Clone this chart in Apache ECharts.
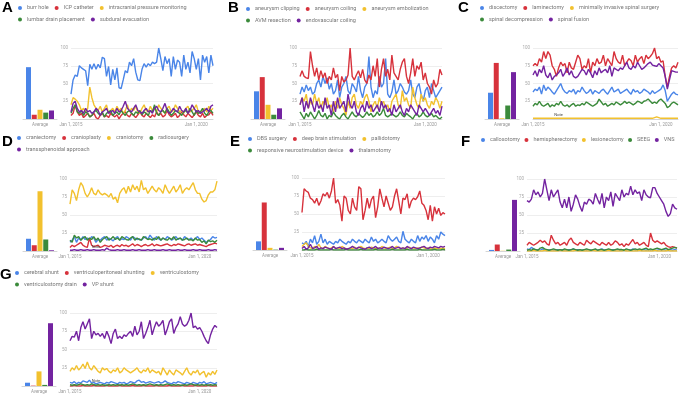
<!DOCTYPE html>
<html>
<head>
<meta charset="utf-8">
<script src="https://cdn.jsdelivr.net/npm/echarts@6/dist/echarts.min.js"></script>
<style>
html, body { margin: 0; padding: 0; background: #fff; }
#chart { width: 680px; height: 395px; }
</style>
</head>
<body>
<div id="chart"></div>
<script>
// monthly categories, Jan 2015 - Sep 2020
var monthNames = ['Jan', 'Feb', 'Mar', 'Apr', 'May', 'Jun', 'Jul', 'Aug', 'Sep', 'Oct', 'Nov', 'Dec'];
var months = [];
for (var y = 2015; y <= 2020; y++) {
	for (var m = 0; m < 12; m++) {
		if (months.length < 69) months.push(monthNames[m] + ' 1, ' + y);
	}
}
var xTickIndex = [0, 60]; // Jan 1, 2015 / Jan 1, 2020
var yTicks = [25, 50, 75, 100];
var barCategory = ['Average'];
var colors = ['#4a85e8', '#d7323c', '#f2c12e', '#3b8a3b', '#7323a0'];

// ---- A
var aTerms = ['burr hole', 'ICP catheter', 'intracranial pressure monitoring', 'lumbar drain placement', 'subdural evacuation'];
var aAvg = [73, 6, 13, 9, 12];
var aBurrHole = [35, 55, 62, 60, 75, 72, 70, 68, 47, 77,
	70, 78, 70, 77, 72, 87, 85, 60, 74, 48,
	70, 55, 72, 44, 43, 55, 68, 65, 80, 75,
	85, 66, 55, 54, 70, 78, 73, 78, 75, 80,
	78, 80, 100, 85, 68, 88, 78, 85, 60, 88,
	70, 83, 80, 60, 90, 70, 80, 65, 95, 85,
	70, 85, 55, 90, 80, 88, 65, 90, 75];
var aIcpCatheter = [5, 8, 20, 10, 5, 8, 2, 5, 8, 3,
	5, 8, 2, 0, 5, 8, 3, 5, 2, 8,
	5, 3, 6, 0, 5, 8, 10, 5, 3, 8,
	5, 2, 6, 10, 5, 3, 8, 5, 2, 6,
	3, 10, 5, 8, 3, 5, 12, 6, 3, 5,
	8, 2, 5, 10, 6, 3, 8, 5, 2, 6,
	10, 5, 3, 8, 2, 5, 6, 10, 5];
var aIcpMonitoring = [20, 30, 28, 25, 20, 12, 15, 10, 15, 45,
	30, 20, 15, 12, 18, 10, 15, 20, 8, 12,
	15, 10, 18, 12, 15, 8, 12, 20, 10, 15,
	12, 18, 10, 8, 15, 20, 12, 10, 18, 12,
	15, 10, 20, 15, 12, 8, 15, 18, 10, 12,
	20, 15, 10, 12, 8, 15, 18, 10, 12, 15,
	20, 10, 8, 12, 15, 10, 18, 12, 15];
var aLumbarDrain = [8, 15, 20, 10, 8, 12, 5, 10, 8, 3,
	5, 10, 12, 8, 5, 10, 3, 8, 10, 12,
	5, 8, 10, 6, 12, 8, 5, 10, 12, 8,
	5, 10, 8, 12, 6, 10, 8, 5, 12, 10,
	20, 8, 5, 10, 12, 8, 15, 10, 5, 8,
	12, 10, 8, 5, 10, 12, 8, 15, 10, 5,
	12, 8, 10, 15, 8, 5, 10, 12, 8];
var aSubdural = [10, 22, 25, 15, 10, 12, 8, 15, 10, 12,
	8, 10, 15, 12, 5, 10, 12, 15, 8, 10,
	12, 8, 15, 10, 12, 18, 25, 15, 12, 10,
	15, 20, 12, 10, 8, 12, 15, 10, 12, 8,
	15, 18, 12, 10, 15, 22, 12, 8, 10, 15,
	12, 10, 18, 12, 10, 15, 8, 12, 20, 15,
	10, 12, 8, 10, 12, 15, 10, 18, 20];

// ---- B
var bTerms = ['aneurysm clipping', 'aneurysm coiling', 'aneurysm embolization', 'AVM resection', 'endovascular coiling'];
var bAvg = [39, 59, 20, 6, 15];
var bClipping = [35, 45, 38, 48, 40, 45, 35, 38, 50, 55,
	45, 60, 50, 58, 42, 50, 35, 40, 55, 30,
	45, 50, 60, 40, 35, 50, 45, 38, 60, 40,
	30, 45, 50, 88, 45, 30, 40, 35, 60, 45,
	50, 85, 35, 30, 38, 55, 35, 40, 50, 45,
	38, 35, 40, 55, 35, 30, 45, 50, 35, 25,
	40, 45, 30, 50, 40, 30, 35, 40, 45];
var bCoiling = [60, 68, 60, 58, 57, 95, 75, 60, 72, 55,
	68, 58, 65, 50, 60, 55, 72, 58, 63, 40,
	60, 52, 55, 62, 100, 60, 55, 62, 68, 58,
	70, 55, 50, 62, 55, 75, 60, 85, 45, 70,
	85, 60, 70, 55, 90, 65, 60, 55, 70, 80,
	85, 60, 50, 65, 85, 60, 75, 70, 80, 55,
	65, 50, 45, 35, 55, 45, 50, 70, 62];
var bEmbolization = [20, 30, 25, 35, 15, 25, 20, 35, 22, 30,
	15, 25, 20, 30, 15, 20, 10, 25, 15, 30,
	20, 15, 5, 25, 15, 30, 35, 20, 15, 25,
	20, 30, 35, 25, 10, 20, 25, 15, 30, 20,
	25, 15, 20, 10, 25, 30, 35, 20, 15, 40,
	25, 30, 20, 15, 45, 30, 20, 15, 35, 25,
	30, 20, 15, 25, 20, 30, 25, 15, 25];
var bAvmResection = [10, 5, 0, 8, 3, 10, 5, 0, 5, 12,
	5, 3, 8, 0, 5, 3, 10, 5, 2, 0,
	5, 8, 3, 0, 5, 10, 5, 3, 8, 5,
	2, 5, 10, 5, 8, 3, 5, 10, 5, 8,
	15, 5, 3, 5, 8, 5, 3, 5, 10, 5,
	3, 8, 5, 3, 0, 5, 8, 3, 5, 10,
	5, 3, 5, 8, 3, 5, 2, 0, 3];
var bEndovascular = [20, 30, 10, 25, 15, 30, 20, 10, 25, 15,
	20, 10, 30, 15, 20, 5, 25, 10, 30, 15,
	20, 25, 10, 35, 20, 15, 25, 10, 5, 15,
	20, 10, 25, 15, 20, 10, 15, 20, 10, 25,
	15, 20, 10, 15, 5, 20, 10, 15, 20, 10,
	5, 15, 10, 20, 15, 10, 5, 20, 15, 10,
	15, 10, 5, 10, 15, 8, 12, 5, 18];

// ---- C
var cTerms = ['discectomy', 'laminectomy', 'minimally invasive spinal surgery', 'spinal decompression', 'spinal fusion'];
var cAvg = [37, 79, 1, 19, 66];
var cDiscectomy = [38, 42, 40, 45, 35, 48, 40, 45, 42, 38,
	35, 40, 45, 50, 42, 38, 36, 40, 38, 42,
	35, 40, 38, 45, 40, 36, 38, 42, 35, 40,
	38, 36, 40, 42, 38, 35, 40, 45, 38, 40,
	42, 36, 38, 40, 42, 38, 35, 42, 38, 40,
	36, 38, 42, 40, 38, 35, 40, 36, 38, 40,
	42, 48, 40, 25, 30, 35, 38, 35, 34];
var cLaminectomy = [75, 78, 75, 85, 80, 95, 85, 95, 90, 75,
	70, 60, 72, 80, 75, 78, 65, 80, 72, 70,
	80, 90, 85, 70, 75, 72, 85, 65, 80, 75,
	85, 78, 80, 90, 75, 85, 80, 75, 95, 85,
	80, 78, 90, 75, 80, 85, 82, 75, 90, 80,
	85, 88, 78, 90, 85, 88, 92, 100, 85, 88,
	80, 82, 60, 45, 60, 72, 75, 72, 80];
var cMinInvasive = [1, 1, 1, 1, 1, 1, 1, 1, 1, 1,
	1, 1, 1, 1, 1, 1, 1, 1, 1, 1,
	1, 1, 1, 1, 1, 1, 1, 1, 1, 1,
	1, 1, 1, 1, 1, 1, 1, 1, 1, 1,
	1, 1, 1, 1, 1, 1, 1, 1, 1, 1,
	1, 1, 1, 1, 1, 1, 1, 2, 3, 2,
	1, 1, 1, 1, 1, 1, 1, 1, 1];
var cDecompression = [18, 22, 20, 25, 20, 18, 20, 22, 17, 20,
	18, 22, 20, 25, 20, 18, 20, 17, 20, 22,
	18, 20, 19, 22, 20, 24, 22, 20, 18, 20,
	22, 28, 24, 20, 22, 18, 20, 22, 20, 24,
	22, 20, 22, 25, 22, 24, 22, 20, 22, 25,
	24, 22, 25, 26, 28, 25, 22, 24, 22, 26,
	28, 25, 22, 16, 18, 22, 24, 22, 20];
var cFusion = [62, 68, 60, 70, 65, 75, 62, 58, 65, 55,
	60, 62, 65, 70, 60, 65, 72, 62, 68, 60,
	58, 60, 65, 70, 68, 62, 70, 65, 58, 68,
	62, 72, 65, 68, 70, 65, 75, 60, 72, 70,
	68, 72, 70, 75, 80, 72, 70, 75, 72, 80,
	75, 70, 72, 75, 78, 80, 76, 75, 74, 78,
	75, 72, 60, 42, 55, 68, 67, 66, 66];

// ---- D
var dTerms = ['craniectomy', 'cranioplasty', 'craniotomy', 'radiosurgery', 'transsphenoidal approach'];
var dAvg = [17, 8, 83, 16, 1];
var dCraniectomy = [12, 15, 20, 12, 18, 15, 20, 16, 18, 15,
	20, 18, 12, 16, 15, 18, 20, 15, 18, 16,
	14, 18, 20, 15, 17, 16, 20, 18, 15, 20,
	18, 16, 17, 15, 18, 20, 16, 22, 18, 15,
	20, 17, 15, 18, 16, 20, 18, 15, 17, 20,
	16, 18, 15, 20, 17, 16, 18, 15, 17, 20,
	16, 18, 15, 12, 14, 16, 20, 18, 19];
var dCranioplasty = [5, 8, 6, 8, 10, 12, 8, 6, 5, 18,
	8, 6, 7, 8, 5, 6, 8, 7, 6, 8,
	5, 7, 8, 6, 9, 7, 8, 6, 8, 10,
	7, 9, 8, 6, 8, 9, 7, 8, 10, 7,
	9, 8, 7, 8, 9, 10, 8, 7, 9, 8,
	10, 9, 8, 7, 9, 10, 8, 9, 10, 8,
	9, 8, 7, 6, 8, 9, 10, 11, 10];
var dCraniotomy = [65, 85, 80, 70, 85, 95, 90, 80, 75, 80,
	88, 80, 78, 85, 80, 78, 80, 78, 75, 80,
	72, 75, 67, 80, 85, 88, 80, 90, 82, 92,
	85, 90, 82, 98, 85, 88, 80, 85, 90, 85,
	82, 88, 85, 80, 92, 85, 80, 85, 90, 82,
	86, 92, 80, 85, 88, 85, 90, 95, 85, 80,
	80, 72, 68, 70, 78, 82, 82, 85, 97];
var dRadiosurgery = [15, 12, 22, 18, 20, 15, 18, 20, 15, 18,
	16, 20, 15, 18, 12, 16, 18, 20, 15, 17,
	20, 16, 18, 15, 20, 18, 16, 15, 18, 20,
	15, 18, 16, 15, 20, 18, 16, 17, 15, 18,
	16, 20, 15, 18, 16, 15, 18, 16, 20, 15,
	17, 18, 15, 16, 18, 15, 16, 14, 18, 15,
	16, 12, 14, 10, 15, 13, 14, 12, 15];
var dTranssphenoidal = [1, 1, 2, 1, 1, 2, 1, 1, 2, 1,
	1, 2, 1, 1, 1, 2, 1, 4, 2, 1,
	1, 1, 2, 1, 1, 2, 1, 1, 1, 2,
	1, 1, 2, 1, 1, 1, 2, 1, 1, 2,
	1, 1, 1, 2, 1, 1, 2, 1, 1, 1,
	2, 1, 1, 2, 1, 1, 1, 2, 1, 1,
	2, 1, 1, 1, 2, 1, 1, 2, 1];

// ---- E
var eTerms = ['DBS surgery', 'deep brain stimulation', 'pallidotomy', 'responsive neurostimulation device', 'thalamotomy'];
var eAvg = [12, 66, 3, 0.5, 3];
var eDbsSurgery = [10, 8, 12, 5, 15, 10, 20, 8, 12, 22,
	10, 15, 8, 12, 10, 8, 12, 10, 15, 12,
	10, 8, 12, 10, 15, 12, 10, 14, 12, 10,
	15, 12, 10, 18, 12, 15, 10, 12, 15, 12,
	10, 20, 15, 12, 15, 18, 12, 10, 26, 15,
	12, 10, 15, 12, 10, 20, 12, 18, 15, 20,
	12, 18, 15, 10, 20, 15, 25, 22, 20];
var eDeepBrain = [52, 85, 82, 80, 72, 70, 65, 72, 62, 68,
	78, 75, 80, 72, 82, 100, 65, 70, 62, 40,
	75, 72, 55, 50, 72, 60, 55, 88, 85, 42,
	55, 72, 58, 70, 75, 45, 60, 85, 72, 60,
	75, 65, 55, 60, 75, 85, 68, 50, 72, 70,
	78, 58, 68, 72, 70, 74, 82, 65, 62, 55,
	42, 62, 40, 60, 50, 58, 48, 52, 50];
var ePallidotomy = [5, 8, 10, 5, 3, 2, 5, 3, 8, 3,
	2, 5, 3, 2, 3, 5, 2, 3, 2, 5,
	3, 2, 1, 3, 2, 4, 2, 3, 5, 3,
	2, 3, 2, 4, 3, 2, 3, 2, 5, 3,
	2, 3, 4, 2, 3, 5, 3, 2, 3, 2,
	3, 4, 2, 3, 2, 3, 2, 4, 3, 2,
	3, 2, 1, 3, 2, 3, 2, 3, 2];
var eResponsive = [0, 0, 1, 0, 0, 0, 0, 1, 0, 0,
	0, 0, 0, 0, 1, 0, 0, 0, 0, 0,
	0, 1, 0, 0, 0, 0, 0, 0, 1, 0,
	0, 0, 0, 0, 0, 1, 0, 0, 0, 0,
	0, 0, 0, 1, 0, 0, 0, 0, 0, 0,
	1, 0, 0, 0, 0, 0, 1, 0, 0, 0,
	0, 0, 0, 1, 0, 0, 0, 1, 0];
var eThalamotomy = [2, 5, 1, 3, 8, 2, 3, 5, 1, 3,
	2, 4, 3, 2, 1, 5, 2, 3, 4, 2,
	3, 1, 2, 3, 5, 3, 2, 4, 3, 2,
	1, 3, 4, 2, 3, 5, 2, 3, 2, 4,
	3, 2, 3, 5, 2, 3, 4, 2, 3, 2,
	5, 3, 2, 4, 3, 2, 3, 4, 5, 3,
	2, 4, 3, 5, 4, 3, 5, 4, 5];

// ---- F
var fTerms = ['callosotomy', 'hemispherectomy', 'lesionectomy', 'SEEG', 'VNS'];
var fAvg = [1.5, 9, 0.3, 2, 71];
var fCallosotomy = [3, 2, 5, 3, 1, 2, 1, 3, 1, 2,
	1, 2, 1, 1, 2, 1, 2, 1, 1, 2,
	1, 3, 1, 2, 1, 1, 2, 1, 2, 1,
	1, 2, 1, 2, 3, 1, 2, 1, 1, 2,
	1, 2, 1, 1, 2, 1, 2, 1, 3, 1,
	2, 1, 1, 2, 1, 2, 1, 2, 1, 1,
	2, 1, 2, 1, 1, 2, 1, 2, 1];
var fHemispherectomy = [8, 12, 10, 8, 10, 12, 15, 12, 14, 10,
	8, 22, 15, 10, 12, 8, 10, 12, 8, 15,
	18, 12, 10, 8, 12, 10, 8, 15, 12, 10,
	14, 12, 10, 8, 12, 10, 8, 12, 8, 10,
	14, 12, 8, 10, 6, 10, 8, 12, 16, 10,
	12, 8, 10, 12, 8, 6, 25, 15, 12, 14,
	12, 10, 12, 8, 6, 5, 6, 5, 4];
var fLesionectomy = [0, 0, 0, 1, 0, 0, 0, 0, 1, 0,
	0, 0, 0, 0, 0, 1, 0, 0, 0, 0,
	0, 0, 1, 0, 0, 0, 0, 0, 0, 0,
	1, 0, 0, 0, 0, 0, 0, 1, 0, 0,
	0, 0, 0, 0, 1, 0, 0, 0, 0, 0,
	0, 1, 0, 0, 0, 0, 0, 0, 1, 0,
	0, 0, 0, 0, 1, 0, 0, 0, 0];
var fSeeg = [1, 2, 1, 3, 2, 1, 4, 5, 3, 2,
	1, 2, 3, 2, 1, 2, 1, 3, 2, 1,
	2, 3, 2, 1, 2, 1, 2, 3, 2, 1,
	2, 3, 1, 2, 2, 1, 2, 3, 2, 1,
	2, 3, 2, 2, 1, 3, 2, 1, 2, 3,
	2, 3, 2, 3, 4, 2, 3, 2, 3, 4,
	3, 2, 3, 4, 2, 3, 4, 5, 4];
var fVns = [70, 68, 72, 85, 78, 82, 75, 80, 100, 85,
	70, 85, 75, 80, 85, 68, 60, 72, 60, 75,
	55, 65, 78, 72, 62, 55, 68, 65, 72, 70,
	65, 80, 72, 65, 80, 60, 75, 70, 82, 62,
	80, 75, 70, 85, 75, 80, 78, 90, 78, 85,
	80, 82, 70, 85, 78, 75, 74, 88, 88, 80,
	75, 70, 65, 55, 48, 52, 65, 60, 58];

// ---- G
var gTerms = ['cerebral shunt', 'ventriculoperitoneal shunting', 'ventriculostomy', 'ventriculostomy drain', 'VP shunt'];
var gAvg = [4.5, 0.5, 20, 1.5, 86];
var gCerebralShunt = [5, 4, 6, 3, 5, 4, 7, 6, 5, 8,
	4, 5, 3, 4, 5, 4, 3, 5, 4, 6,
	5, 4, 3, 5, 4, 5, 3, 4, 6, 5,
	4, 7, 8, 5, 6, 4, 5, 6, 5, 4,
	5, 6, 4, 5, 7, 5, 4, 3, 5, 4,
	6, 5, 4, 3, 5, 4, 3, 5, 4, 3,
	5, 4, 6, 3, 4, 5, 4, 3, 5];
var gVpShunting = [0, 0, 1, 0, 0, 0, 1, 0, 0, 0,
	0, 1, 0, 0, 0, 0, 0, 1, 0, 0,
	0, 0, 0, 1, 0, 0, 0, 0, 0, 1,
	0, 0, 0, 0, 1, 0, 0, 0, 0, 0,
	1, 0, 0, 0, 0, 0, 1, 0, 0, 0,
	0, 0, 1, 0, 0, 0, 0, 0, 1, 0,
	0, 0, 0, 0, 1, 0, 0, 0, 0];
var gVentriculostomy = [20, 25, 22, 28, 22, 25, 30, 24, 33, 25,
	22, 28, 24, 20, 18, 25, 22, 24, 20, 18,
	22, 20, 25, 18, 20, 25, 22, 20, 18, 20,
	22, 25, 20, 18, 22, 20, 25, 18, 22, 20,
	18, 20, 15, 25, 20, 15, 22, 18, 15, 22,
	20, 18, 15, 20, 25, 18, 15, 20, 18, 22,
	15, 18, 20, 12, 18, 15, 20, 16, 22];
var gDrain = [2, 1, 2, 1, 2, 3, 2, 1, 2, 1,
	3, 2, 1, 2, 1, 2, 1, 1, 2, 1,
	2, 1, 2, 1, 2, 1, 2, 1, 2, 3,
	2, 1, 2, 1, 2, 1, 2, 3, 2, 1,
	2, 1, 2, 1, 2, 3, 2, 1, 2, 1,
	2, 1, 1, 2, 1, 2, 3, 2, 1, 2,
	1, 2, 1, 2, 1, 2, 1, 2, 1];
var gVpShunt = [62, 68, 67, 75, 62, 80, 88, 78, 85, 92,
	65, 75, 70, 72, 68, 72, 65, 75, 68, 58,
	72, 78, 65, 68, 65, 70, 68, 72, 75, 68,
	82, 70, 75, 88, 65, 72, 80, 90, 70, 80,
	88, 82, 85, 90, 70, 78, 88, 92, 72, 80,
	85, 95, 85, 82, 84, 90, 100, 80, 82, 78,
	80, 75, 68, 62, 58, 70, 78, 83, 80];

// panel placement (pixels)
var panels = [
	{ letter: 'A', terms: aTerms, avg: aAvg, lines: [aBurrHole, aIcpCatheter, aIcpMonitoring, aLumbarDrain, aSubdural],
	  lx: 2, ly: 0, legX: 18, legY: 5, wrap: 3, barL: 23, lineL: 71, lineW: 142, top: 48, h: 71 },
	{ letter: 'B', terms: bTerms, avg: bAvg, lines: [bClipping, bCoiling, bEmbolization, bAvmResection, bEndovascular],
	  lx: 228, ly: 0, legX: 246, legY: 6, wrap: 3, barL: 251, lineL: 300, lineW: 142, top: 48, h: 71 },
	{ letter: 'C', terms: cTerms, avg: cAvg, lines: [cDiscectomy, cLaminectomy, cMinInvasive, cDecompression, cFusion],
	  lx: 458, ly: 0, legX: 480, legY: 5, wrap: 3, barL: 485, lineL: 533, lineW: 145, top: 48, h: 71,
	  note: { s: 2, i: 12, v: 1 } },
	{ letter: 'D', terms: dTerms, avg: dAvg, lines: [dCraniectomy, dCranioplasty, dCraniotomy, dRadiosurgery, dTranssphenoidal],
	  lx: 2, ly: 134, legX: 17, legY: 135, wrap: 4, barL: 23, lineL: 70, lineW: 147, top: 179, h: 72,
	  note: { s: 4, i: 12, v: 1 } },
	{ letter: 'E', terms: eTerms, avg: eAvg, lines: [eDbsSurgery, eDeepBrain, ePallidotomy, eResponsive, eThalamotomy],
	  lx: 230, ly: 134, legX: 248, legY: 136, wrap: 3, barL: 253, lineL: 302, lineW: 143, top: 178, h: 72 },
	{ letter: 'F', terms: fTerms, avg: fAvg, lines: [fCallosotomy, fHemispherectomy, fLesionectomy, fSeeg, fVns],
	  lx: 461, ly: 134, legX: 481, legY: 137, wrap: 5, gap: 4.5, barL: 486, lineL: 527, lineW: 150, top: 179, h: 72 },
	{ letter: 'G', terms: gTerms, avg: gAvg, lines: [gCerebralShunt, gVpShunting, gVentriculostomy, gDrain, gVpShunt],
	  lx: 0, ly: 267, legX: 15, legY: 270, wrap: 3, barL: 22, lineL: 70, lineW: 147, top: 313, h: 73,
	  note: { s: 1, i: 12, v: 2 } }
];

var chart = echarts.init(document.getElementById('chart'));
var font = 'Roboto, "Noto Sans", sans-serif';

var option = {
	animation: false,
	backgroundColor: '#fff',
	title: [], legend: [], grid: [], xAxis: [], yAxis: [], series: []
};

panels.forEach(function (p) {
	option.title.push({
		text: p.letter, left: p.lx, top: p.ly, padding: 0,
		textStyle: { fontFamily: '"Liberation Sans", Arial, sans-serif', fontWeight: 'bold', fontSize: 15, color: '#000' }
	});

	var rows = [p.terms.slice(0, p.wrap), p.terms.slice(p.wrap)];
	rows.forEach(function (names, r) {
		if (!names.length) return;
		option.legend.push({
			data: names, left: p.legX, top: p.legY + r * 11.5, width: 300, padding: 0,
			icon: 'circle', itemWidth: 4, itemHeight: 4, itemGap: p.gap || 6,
			selectedMode: false,
			textStyle: { fontFamily: font, fontSize: 5.5, color: '#777' }
		});
	});

	// small "Average" bar chart
	var gb = option.grid.length;
	option.grid.push({ left: p.barL, top: p.top, width: 34, height: p.h });
	option.xAxis.push({
		type: 'category', gridIndex: gb, data: barCategory,
		axisLine: { lineStyle: { color: '#ccc', width: 0.8 } },
		axisTick: { show: false },
		axisLabel: { fontFamily: font, fontSize: 4.5, color: '#999', margin: 3 }
	});
	option.yAxis.push({ type: 'value', gridIndex: gb, min: 0, max: 100, show: false });

	// trend lines
	var gl = option.grid.length;
	option.grid.push({ left: p.lineL, top: p.top, width: p.lineW, height: p.h });
	option.xAxis.push({
		type: 'category', gridIndex: gl, data: months, boundaryGap: false,
		axisLine: { lineStyle: { color: '#ccc', width: 0.8 } },
		axisTick: { show: false },
		axisLabel: {
			fontFamily: font, fontSize: 4.5, color: '#999', margin: 3,
			interval: function (idx) { return xTickIndex.indexOf(idx) >= 0; }
		}
	});
	option.yAxis.push({
		type: 'value', gridIndex: gl, min: 0, max: 100, interval: 25,
		axisLine: { show: false }, axisTick: { show: false },
		axisLabel: {
			fontFamily: font, fontSize: 4.5, color: '#aaa', margin: 3,
			formatter: function (v) { return yTicks.indexOf(v) >= 0 ? v : ''; }
		},
		splitLine: { lineStyle: { color: '#eaeaea', width: 0.8 } }
	});

	p.terms.forEach(function (name, k) {
		option.series.push({
			name: name, type: 'bar', xAxisIndex: gb, yAxisIndex: gb,
			data: [p.avg[k]], barWidth: 5, barGap: '15%',
			itemStyle: { color: colors[k] }
		});
	});
	p.terms.forEach(function (name, k) {
		var s = {
			name: name, type: 'line', xAxisIndex: gl, yAxisIndex: gl,
			data: p.lines[k], symbol: 'none', z: 3 + k,
			itemStyle: { color: colors[k] },
			lineStyle: { color: colors[k], width: 1.4 }
		};
		if (p.note && p.note.s === k) {
			s.markPoint = {
				symbol: 'circle', symbolSize: 0.1,
				label: { show: true, position: 'top', distance: 1, formatter: 'Note',
					fontFamily: font, fontSize: 4, color: '#444' },
				data: [{ coord: [p.note.i, p.note.v] }]
			};
		}
		option.series.push(s);
	});
});

chart.setOption(option);
</script>
</body>
</html>
